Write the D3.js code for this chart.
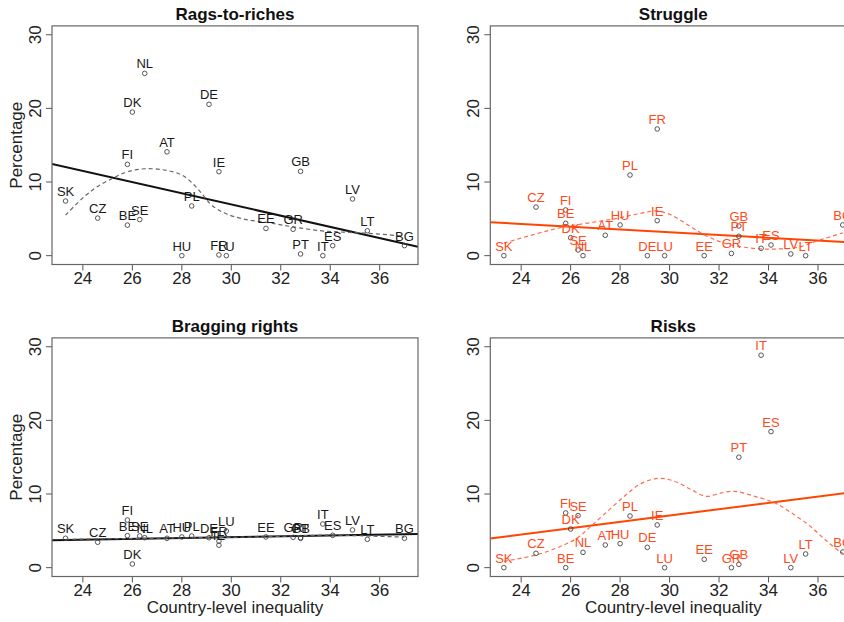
<!DOCTYPE html>
<html lang="en">
<head>
<meta charset="UTF-8">
<title>Inequality panels</title>
<script src="https://d3js.org/d3.v7.min.js"></script>
<style>
    body { margin: 0; padding: 0; background: #fff; }
    svg { display: block; font-family: "Liberation Sans", Arial, Helvetica, sans-serif; }
    .title { font-size: 17px; font-weight: bold; fill: #111; text-anchor: middle; }
    .tick-label { font-size: 17px; fill: #222; text-anchor: middle; }
    .axis-label { font-size: 17px; fill: #222; text-anchor: middle; }
    .country { font-size: 13px; text-anchor: middle; }
</style>
</head>
<body>
<svg width="844" height="622"></svg>
<script>
// countries and their x value (country-level inequality)
const countries = ["SK","CZ","BE","FI","SE","DK","NL","AT","HU","PL","DE","IE","FR","LU","EE","GR","GB","PT","IT","ES","LV","LT","BG"];
const inequality = [23.3,24.6,25.8,25.8,26.3,26.0,26.5,27.4,28.0,28.4,29.1,29.5,29.5,29.8,31.4,32.5,32.8,32.8,33.7,34.1,34.9,35.5,37.0];

// percentages per panel (same country order)
const ragsToRiches = [7.42,5.1,4.15,12.4,4.9,19.5,24.75,14.1,0,6.75,20.55,11.4,0.1,0,3.7,3.58,11.45,0.23,0,1.36,7.7,3.38,1.36];
const struggle = [0,6.6,4.4,6.2,0.77,2.44,0,2.77,4.17,10.95,0,4.75,17.2,0,0,0.3,4.03,2.63,1.0,1.45,0.23,0,4.17];
const bragging = [3.99,3.45,4.35,6.47,4.3,0.5,4.07,3.99,4.17,4.3,4.07,3.05,3.6,4.98,4.17,4.12,4.07,3.98,5.93,4.39,5.12,3.85,3.99];
// FR lies above the 0-30 range and is clipped off, as in the original
const risks = [0,1.95,0,7.43,7.07,5.25,2.08,3.08,3.26,7.02,2.76,5.8,47,0,1.13,0,0.45,15.0,28.85,18.48,0,1.86,2.13];

// smoother curves
const ragsSmooth = [[23.3,5.5],[24.05,8.0],[24.6,9.4],[25.2,10.5],[25.8,11.4],[26.5,11.8],[27.3,11.63],[28.0,10.95],[28.5,9.6],[28.85,8.24],[29.2,6.88],[29.75,5.75],[30.55,4.93],[31.5,4.48],[32.45,3.94],[33.55,3.4],[34.5,3.2],[35.5,3.04],[37.0,2.65]];
const struggleSmooth = [[23.3,1.7],[24.65,3.0],[25.66,3.85],[26.8,4.48],[27.9,5.08],[28.7,5.66],[29.5,6.07],[30.06,5.52],[30.74,4.17],[31.41,2.81],[32.23,1.68],[33.04,1.14],[33.72,0.91],[34.39,0.91],[35.2,1.14],[35.88,1.9],[37.0,3.1]];
const braggingSmooth = [[23.3,3.85],[25.0,3.92],[26.5,3.98],[28.0,4.05],[29.5,4.1],[31.0,4.17],[32.5,4.3],[34.0,4.42],[35.5,4.3],[37.0,4.15]];
const risksSmooth = [[23.3,0.85],[24.65,1.77],[25.6,2.9],[26.27,4.03],[26.81,5.6],[27.49,7.65],[28.17,9.69],[28.84,11.41],[29.59,12.13],[30.2,11.73],[30.87,10.6],[31.48,9.69],[32.09,10.15],[32.63,10.37],[33.44,9.69],[34.26,8.79],[34.93,7.43],[35.61,5.84],[36.29,3.8],[36.83,2.3],[37.0,2.0]];

const xTicks = [24, 26, 28, 30, 32, 34, 36];
const yTicks = [0, 10, 20, 30];

const svg = d3.select("svg");

const panels = [
    { title: "Rags-to-riches", values: ragsToRiches, smooth: ragsSmooth, col: 0, row: 0, red: false },
    { title: "Struggle", values: struggle, smooth: struggleSmooth, col: 1, row: 0, red: true },
    { title: "Bragging rights", values: bragging, smooth: braggingSmooth, col: 0, row: 1, red: false },
    { title: "Risks", values: risks, smooth: risksSmooth, col: 1, row: 1, red: true }
];

const boxW = 366, boxH = 238.6;
const lefts = [52, 490.3], tops = [25.9, 337.9];

panels.forEach(function(p, i) {
    const left = lefts[p.col], top = tops[p.row];
    const x = d3.scaleLinear().domain([22.752, 37.548]).range([left, left + boxW]);
    const y = d3.scaleLinear().domain([-1.2, 31.2]).range([top + boxH, top]);

    const lineColor = p.red ? "#ff4500" : "#111";
    const textColor = p.red ? "#ff4a1a" : "#1a1a1a";
    const dashColor = p.red ? "#ff6a4a" : "#666";

    const g = svg.append("g");

    g.append("clipPath").attr("id", "clip" + i)
        .append("rect")
        .attr("x", left).attr("y", top)
        .attr("width", boxW).attr("height", boxH);

    // title
    g.append("text").attr("class", "title")
        .attr("x", left + boxW / 2).attr("y", top - 5.5)
        .text(p.title);

    // x axis ticks
    g.selectAll(".xt").data(xTicks).enter().append("line")
        .attr("x1", d => x(d)).attr("x2", d => x(d))
        .attr("y1", top + boxH).attr("y2", top + boxH + 6)
        .attr("stroke", "#555").attr("stroke-width", 1);
    g.selectAll(".xl").data(xTicks).enter().append("text")
        .attr("class", "tick-label")
        .attr("x", d => x(d)).attr("y", top + boxH + 19.5)
        .text(d => d);

    // y axis ticks
    g.selectAll(".yt").data(yTicks).enter().append("line")
        .attr("x1", left - 6).attr("x2", left)
        .attr("y1", d => y(d)).attr("y2", d => y(d))
        .attr("stroke", "#555").attr("stroke-width", 1);
    g.selectAll(".yl").data(yTicks).enter().append("text")
        .attr("class", "tick-label")
        .attr("transform", d => "translate(" + (left - 11) + "," + y(d) + ") rotate(-90)")
        .text(d => d);

    if (p.col === 0) {
        g.append("text").attr("class", "axis-label")
            .attr("transform", "translate(" + (left - 30) + "," + (top + boxH / 2) + ") rotate(-90)")
            .text("Percentage");
    }
    if (p.row === 1) {
        g.append("text").attr("class", "axis-label")
            .attr("x", left + boxW / 2).attr("y", top + boxH + 36.5)
            .text("Country-level inequality");
    }

    const pts = countries.map((c, k) => ({ c: c, x: inequality[k], y: p.values[k] }))
        .filter(d => d.y !== null);

    // least squares fit
    const mx = d3.mean(pts, d => d.x), my = d3.mean(pts, d => d.y);
    const slope = d3.sum(pts, d => (d.x - mx) * (d.y - my)) / d3.sum(pts, d => (d.x - mx) * (d.x - mx));
    const dom = x.domain();
    const clip = g.append("g").attr("clip-path", "url(#clip" + i + ")");

    clip.append("line")
        .attr("x1", x(dom[0])).attr("y1", y(my + slope * (dom[0] - mx)))
        .attr("x2", x(dom[1])).attr("y2", y(my + slope * (dom[1] - mx)))
        .attr("stroke", lineColor).attr("stroke-width", 2);

    clip.append("path")
        .datum(p.smooth)
        .attr("d", d3.line().x(d => x(d[0])).y(d => y(d[1])).curve(d3.curveCatmullRom))
        .attr("fill", "none")
        .attr("stroke", dashColor)
        .attr("stroke-width", 1.2)
        .attr("stroke-dasharray", "4,3");

    // points
    clip.selectAll(".pt").data(pts).enter().append("circle")
        .attr("cx", d => x(d.x)).attr("cy", d => y(d.y))
        .attr("r", 2.3)
        .attr("fill", "none")
        .attr("stroke", "#444")
        .attr("stroke-width", 0.9);

    // country labels
    clip.selectAll(".lab").data(pts).enter().append("text")
        .attr("class", "country")
        .attr("x", d => x(d.x)).attr("y", d => y(d.y) - 5)
        .attr("fill", textColor)
        .text(d => d.c);

    // plot box
    g.append("rect")
        .attr("x", left).attr("y", top)
        .attr("width", boxW).attr("height", boxH)
        .attr("fill", "none")
        .attr("stroke", "#666").attr("stroke-width", 1.2);
});
</script>
</body>
</html>
